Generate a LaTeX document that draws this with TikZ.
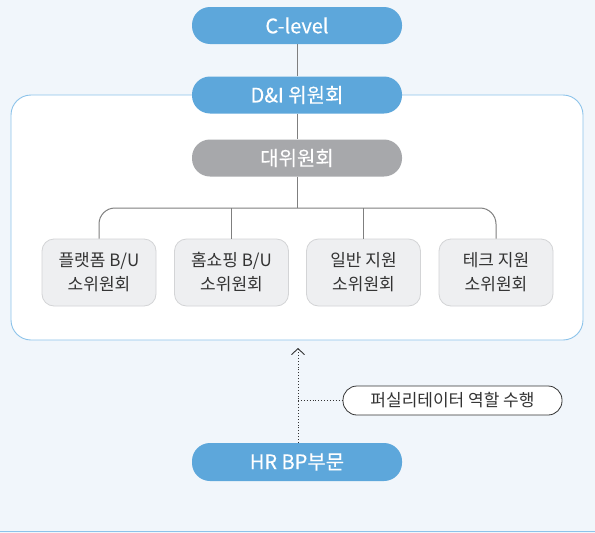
\documentclass[tikz,border=0pt]{standalone}
\usepackage{fontspec}
\setmainfont{Noto Sans CJK KR}
\newfontfamily\pillfont[FakeBold=0.25]{Noto Sans CJK KR}
\usetikzlibrary{arrows.meta}
\definecolor{bgc}{HTML}{F1F6FB}
\definecolor{pillblue}{HTML}{5DA7DB}
\definecolor{pillgray}{HTML}{A7A8AB}
\definecolor{framec}{HTML}{8CC3EA}
\definecolor{boxfill}{HTML}{EEEFF1}
\definecolor{boxline}{HTML}{D3D4D6}
\definecolor{linec}{HTML}{7F7F7F}
\definecolor{darkc}{HTML}{333333}
\tikzset{
  pill/.style={rounded corners=18pt, minimum width=210pt, minimum height=37pt, inner sep=0pt, text=white, font=\pillfont\fontsize{20}{24}\selectfont},
  subbox/.style={draw=boxline, line width=0.8pt, fill=boxfill, rounded corners=12pt, minimum width=114pt, minimum height=67pt, inner sep=0pt, align=center, text=darkc, font=\fontsize{17}{24}\selectfont},
  conn/.style={draw=linec, line width=1pt},
}
\begin{document}
\begin{tikzpicture}[x=1pt,y=-1pt]
\fill[bgc] (0,0) rectangle (595,533);
\useasboundingbox (0,0) rectangle (595,533);
\draw[framec, line width=1.3pt] (0,531.5) -- (595,531.5);
\draw[framec, line width=0.9pt, fill=white, rounded corners=20pt] (11,95) rectangle (583,340);
\node[pill, fill=pillblue] (c) at (297,25.5) {C-level};
\node[pill, fill=pillblue] (di) at (297,95) {D\&I 위원회};
\node[pill, fill=pillgray] (dae) at (297,158) {대위원회};
\node[subbox] (b1) at (99,272.5) {플랫폼 B/U\\소위원회};
\node[subbox] (b2) at (231.5,272.5) {홈쇼핑 B/U\\소위원회};
\node[subbox] (b3) at (363.5,272.5) {일반 지원\\소위원회};
\node[subbox] (b4) at (496,272.5) {테크 지원\\소위원회};
\node[pill, fill=pillblue, minimum height=38pt] (hr) at (297,462) {HR BP부문};
\node[draw=darkc, line width=0.8pt, fill=white, rounded corners=14pt, minimum width=219pt, minimum height=29pt, inner sep=0pt, text=darkc, font=\fontsize{17}{20}\selectfont] (lab) at (452.5,400.5) {퍼실리테이터 역할 수행};
\coordinate (top) at (298,348);
\coordinate (hub) at (297,208);
\coordinate (mid) at (298,400.5);
\draw[conn] (c.south) -- (di.north);
\draw[conn] (di.south) -- (dae.north);
\draw[conn] (dae.south) -- (hub);
\draw[conn, rounded corners=16pt] (b1.north) -- (b1.north |- hub) -- (b4.north |- hub) -- (b4.north);
\draw[conn] (b2.north) -- (b2.north |- hub);
\draw[conn] (b3.north) -- (b3.north |- hub);
\draw[darkc, line width=0.9pt, dotted, -{Straight Barb[length=6pt, width=13pt, line width=0.9pt]}] (hr.north -| top) -- (top);
\draw[darkc, line width=0.9pt, dotted] (mid) -- (lab.west);
\end{tikzpicture}
\end{document}
